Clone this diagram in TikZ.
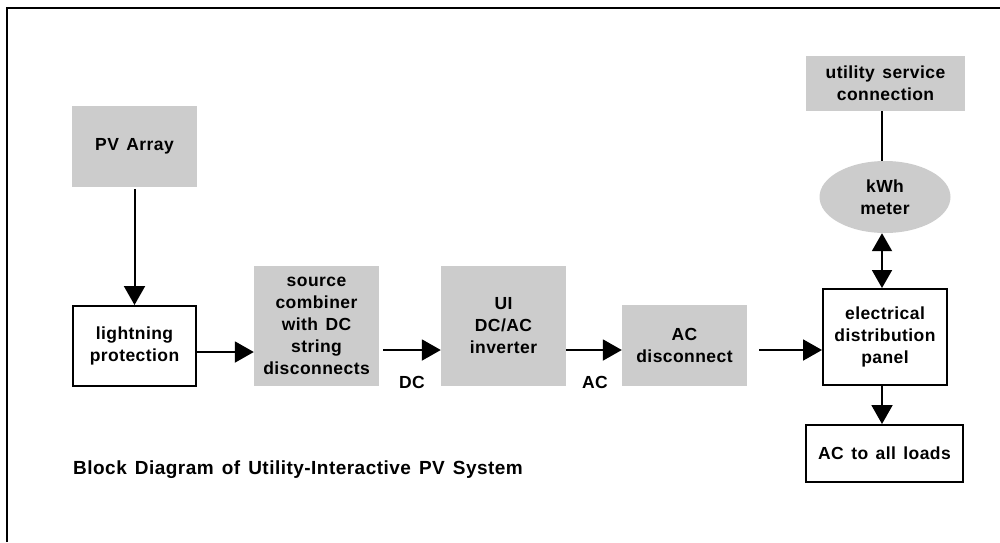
\documentclass[tikz,border=0pt]{standalone}
\usepackage{fontspec}
\setmainfont{Liberation Sans}[LetterSpace=2.5, WordSpace=1.4]
\usetikzlibrary{arrows.meta,shapes.geometric}
\definecolor{boxgray}{HTML}{CCCCCC}
\begin{document}
\begin{tikzpicture}[x=1pt,y=-1pt,
  every node/.style={font=\fontsize{17.5}{22}\selectfont\bfseries, align=center, inner sep=0pt},
  grayblock/.style={fill=boxgray, minimum width=#1},
  grayblock/.default=125pt,
  whiteblock/.style={draw, line width=2pt, fill=white},
  arr/.style={line width=2pt, -{Triangle[length=19pt,width=21pt]}},
  biarr/.style={line width=2pt, {Triangle[length=18pt,width=20pt]}-{Triangle[length=18pt,width=20pt]}},
  plain/.style={line width=2pt}]
\useasboundingbox (0,0) rectangle (1000,542);
% open frame: top and left edges
\draw[line width=2.5pt] (7,542) -- (7,8) -- (1000,8);

% blocks
\node[grayblock, minimum height=81pt] (pv) at (134.5,146.5) {PV Array};
\node[whiteblock, minimum width=123pt, minimum height=80pt] (lp) at (134.5,346) {lightning\\protection};
\node[grayblock, minimum height=120pt] (sc) at (316.5,326) {source\\combiner\\with DC\\string\\disconnects};
\node[grayblock, minimum height=120pt] (inv) at (503.5,326) {UI\\DC/AC\\inverter};
\node[grayblock, minimum height=81pt] (acd) at (684.5,345.5) {AC\\disconnect};
\node[whiteblock, minimum width=124pt, minimum height=96pt] (edp) at (885,337) {electrical\\distribution\\panel};
\node[ellipse, fill=boxgray, minimum width=131pt, minimum height=72pt] (kwh) at (885,197) {kWh\\meter};
\node[grayblock=159pt, minimum height=55pt] (usc) at (885.5,83.5) {utility service\\connection};
\node[whiteblock, minimum width=157pt, minimum height=57pt] (loads) at (884.5,453.5) {AC to all loads};

% current labels
\node (dclbl) at (412,382) {DC};
\node (aclbl) at (595,382) {AC};

% caption
\node[anchor=base west, font=\fontsize{19}{22}\selectfont\bfseries] (caption) at (73,474)
  {Block Diagram of Utility-Interactive PV System};

% connectors
\coordinate (row) at (0,350);
\draw[arr, shorten <=2pt] (pv.south) -- (lp.north);
\draw[arr] (lp.east |- 0,352) -- (sc.west |- 0,352);
\draw[arr, shorten <=4pt] (sc.east |- row) -- (inv.west |- row);
\draw[arr] (inv.east |- row) -- (acd.west |- row);
\draw[arr, shorten <=12pt] (acd.east |- row) -- (edp.west |- row);
\draw[plain] (usc.south -| 882,0) -- (kwh.north -| 882,0);
\draw[biarr] (kwh.south -| 882,0) -- (edp.north -| 882,0);
\draw[arr] (edp.south -| 882,0) -- (loads.north -| 882,0);
\end{tikzpicture}
\end{document}
